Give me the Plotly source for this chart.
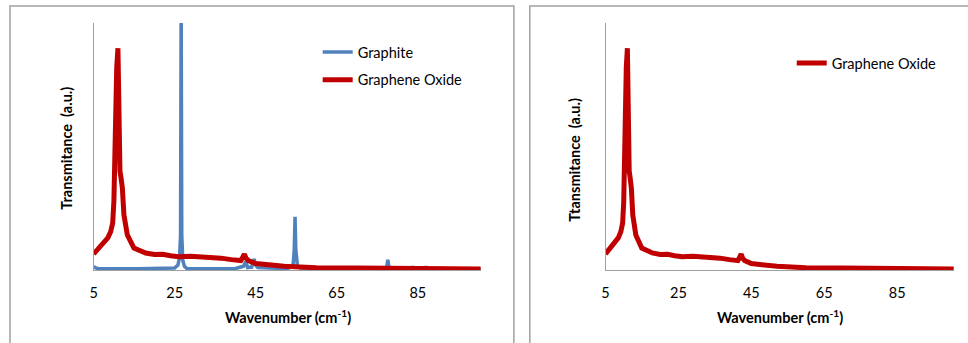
import plotly.graph_objects as go

W, H = 968, 343

# ---- data ----
graphite_x = [5, 5.3, 6, 8, 12, 16, 20, 23, 25, 25.8, 26.2, 26.45, 26.6, 26.75, 27.0, 27.4, 28, 30, 35, 38,
              40, 42.0, 42.5, 43.0, 44.0, 44.6, 45.0, 45.5, 47, 50, 53, 54.2, 54.5, 54.7, 54.9, 55.3, 56,
              60, 65, 70, 75, 77.3, 77.6, 77.9, 80, 83.5, 83.8, 84.1, 86.7, 87.0, 87.3, 90, 95, 100.5]
graphite_y = [1.5, 1.0, 0.6, 0.5, 0.5, 0.5, 0.5, 0.6, 0.8, 2.0, 5.0, 14, 110, 14, 4, 1.5, 0.6, 0.5, 0.5, 0.5,
              0.6, 1.5, 3.5, 1.0, 1.2, 4.5, 2.0, 1.0, 0.8, 0.7, 0.7, 1.5, 8, 21.5, 8, 1.5, 0.8,
              0.5, 0.4, 0.4, 0.4, 0.8, 4.2, 0.8, 0.5, 0.4, 1.4, 0.4, 0.4, 1.4, 0.4, 0.3, 0.3, 0.3]

go_x = [5, 6.2, 7.5, 8.5, 9.2, 9.7, 10.0, 10.26, 10.43, 10.7, 11.0, 11.15, 11.3, 11.5, 11.7, 12.09, 12.48,
        13.32, 14.95, 17.84, 20, 22, 24, 26, 29, 31.8, 34, 36.4, 39, 41.3, 41.8, 42.2, 42.6, 43.2, 45, 47,
        48.7, 52, 56, 60, 70, 80, 90, 100.5]
go_y = [6.5, 9.0, 11.5, 13.0, 15.5, 19, 27.7, 49.4, 72.2, 82, 89.8, 65, 44, 40, 38, 33.2, 22.3,
        14.2, 8.9, 6.9, 6.3, 6.4, 5.8, 5.4, 5.6, 5.4, 5.1, 4.8, 4.2, 3.8, 5.2, 6.4, 4.8, 3.8, 2.6, 2.2,
        1.7, 1.5, 1.2, 0.9, 0.8, 0.7, 0.6, 0.4]

tick_vals = [5, 25, 45, 65, 85]
tick_text = ["5", "25", "45", "65", "85"]
x_range = [5, 100.6]
y_range = [0, 100]

BLUE = "#4F81BD"
RED = "#C00000"
GRAY = "#A0A0A0"
FONT = "Lato, 'Open Sans', sans-serif"
FS = 14.5

fig = go.Figure()
fig.add_trace(go.Scatter(x=graphite_x, y=graphite_y, mode="lines", name="Graphite",
                         line=dict(color=BLUE, width=3.5), xaxis="x", yaxis="y",
                         legend="legend", legendgroup="a"))
fig.add_trace(go.Scatter(x=go_x, y=go_y, mode="lines", name="Graphene Oxide",
                         line=dict(color=RED, width=5), xaxis="x", yaxis="y",
                         legend="legend", legendgroup="b"))
fig.add_trace(go.Scatter(x=go_x, y=go_y, mode="lines", name="Graphene Oxide",
                         line=dict(color=RED, width=5), xaxis="x2", yaxis="y2",
                         legend="legend2"))

def px(v):
    return v / W

def py(v):
    return 1 - v / H

axis_common = dict(showgrid=False, zeroline=False, showline=True, linecolor=GRAY, linewidth=1,
                   fixedrange=True)
xcommon = dict(axis_common, range=x_range, tickvals=tick_vals, ticktext=tick_text,
               ticks="outside", ticklen=10, tickcolor="rgba(0,0,0,0)",
               tickfont=dict(family=FONT, size=FS, color="#000"))
ycommon = dict(axis_common, range=y_range, showticklabels=False, ticks="")

fig.update_layout(
    width=W, height=H, margin=dict(l=0, r=0, t=0, b=0),
    paper_bgcolor="white", plot_bgcolor="white",
    xaxis=dict(xcommon, domain=[px(90), px(479)], anchor="y"),
    yaxis=dict(ycommon, domain=[py(270), py(23)], anchor="x"),
    xaxis2=dict(xcommon, domain=[px(604), px(954)], anchor="y2"),
    yaxis2=dict(ycommon, domain=[py(270), py(23)], anchor="x2"),
    legend=dict(x=px(315), y=py(36), xanchor="left", yanchor="top",
                bgcolor="rgba(0,0,0,0)", font=dict(family=FONT, size=FS, color="#000"),
                traceorder="grouped", tracegroupgap=6),
    legend2=dict(x=px(791), y=py(47), xanchor="left", yanchor="top",
                 bgcolor="rgba(0,0,0,0)", font=dict(family=FONT, size=FS, color="#000")),
    showlegend=True,
    shapes=[
        dict(type="rect", xref="paper", yref="paper", x0=px(6), x1=px(512), y0=py(360), y1=py(6),
             line=dict(color=GRAY, width=1.5), layer="below"),
        dict(type="rect", xref="paper", yref="paper", x0=px(528), x1=px(990), y0=py(360), y1=py(6),
             line=dict(color=GRAY, width=1.5), layer="below"),
    ],
    annotations=[
        dict(text="<b>Wavenumber (cm<sup>-1</sup>)</b>", xref="paper", yref="paper", x=px(285), y=py(316),
             showarrow=False, font=dict(family=FONT, size=FS, color="#000"), xanchor="center",
             yanchor="middle"),
        dict(text="<b>Wavenumber (cm<sup>-1</sup>)</b>", xref="paper", yref="paper", x=px(779), y=py(316),
             showarrow=False, font=dict(family=FONT, size=FS, color="#000"), xanchor="center",
             yanchor="middle"),
        dict(text="<b>Transmitance  (a.u.)</b>", xref="paper", yref="paper", x=px(62), y=py(148),
             showarrow=False, textangle=-90, font=dict(family=FONT, size=FS, color="#000"),
             xanchor="center", yanchor="middle"),
        dict(text="<b>Ttansmitance  (a.u.)</b>", xref="paper", yref="paper", x=px(572), y=py(160),
             showarrow=False, textangle=-90, font=dict(family=FONT, size=FS, color="#000"),
             xanchor="center", yanchor="middle"),
    ],
)

fig.write_html("out.html")
